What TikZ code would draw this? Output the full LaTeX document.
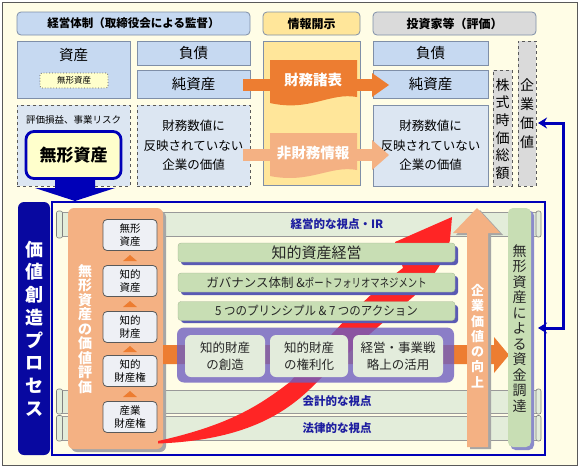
\documentclass[tikz,border=0pt]{standalone}
\usepackage{fontspec}
\setmainfont{Noto Sans CJK JP}
\usetikzlibrary{arrows.meta}
\definecolor{cream}{HTML}{FFFDE6}
\definecolor{frameg}{HTML}{595959}
\definecolor{lblue}{HTML}{C6D9F1}
\definecolor{lblue2}{HTML}{DCE6F2}
\definecolor{bordb}{HTML}{7F8FA8}
\definecolor{lyel}{HTML}{FFE69A}
\definecolor{lgray}{HTML}{DADADA}
\definecolor{dorange}{HTML}{ED7D31}
\definecolor{lorange}{HTML}{F4B183}
\definecolor{dblue}{HTML}{0000B8}
\definecolor{navy}{HTML}{0808A0}
\definecolor{bandg}{HTML}{E3EDDA}
\definecolor{barg}{HTML}{C8DEB4}
\definecolor{purp}{HTML}{6F5FC0}
\definecolor{pinner}{HTML}{E3ECDC}
\definecolor{redc}{HTML}{FF2525}
\definecolor{txtblue}{HTML}{1E1EA0}
\definecolor{shad}{HTML}{5A5AB4}
\definecolor{pale}{HTML}{FFFFCC}
\definecolor{boxg}{HTML}{EEF0F5}
\tikzset{
  fs/.style={font=\fontsize{#1}{#1}\selectfont},
  fsb/.style={font=\fontsize{#1}{#1}\selectfont\bfseries},
  hdrbox/.style={draw=bordb, line width=0.8pt, rounded corners=4pt, inner sep=0pt},
  boxa/.style={draw=bordb, fill=lblue, line width=0.8pt, inner sep=0pt},
  dashbox/.style={draw=frameg, dashed, line width=0.7pt, fill=lblue2, inner sep=0pt},
  gbox/.style={draw=frameg, dashed, fill=lgray, line width=0.7pt, inner sep=0pt},
  band/.style={draw=black!40, fill=bandg, line width=0.6pt, inner sep=0pt},
  curl/.style={draw=black!50, fill=bandg, line width=0.6pt, rounded corners=2pt},
  sbox/.style={draw=black!65, fill=boxg, rounded corners=4pt, line width=0.8pt,
    minimum width=54pt, minimum height=31pt, inner sep=0pt, align=center,
    font=\fontsize{10.5}{13}\selectfont},
  bar/.style={fill=barg, draw=barg!80!black, line width=0.3pt, rounded corners=3pt,
    minimum width=277pt, minimum height=19pt, inner sep=0pt, text=black!85},
  pin/.style={fill=pinner, rounded corners=6pt, minimum height=42pt, inner sep=0pt,
    align=center, font=\fontsize{12.5}{17}\selectfont, text=black!85},
  vtxt/.style={align=center, inner sep=0pt},
  tri/.style={fill=dorange}
}
\begin{document}
\begin{tikzpicture}[x=1pt,y=-1pt]
\useasboundingbox (0,0) rectangle (580,469);
\fill[white] (0,0) rectangle (580,469);
\draw[fill=cream, draw=frameg, line width=1pt] (2.5,2.5) rectangle (577,465);

% ---------- headers
\node[hdrbox, fill=lblue, minimum width=233pt, minimum height=23pt, fsb=11.5] (h1) at (133.5,23.5) {経営体制（取締役会による監督）};
\node[hdrbox, fill=lyel, minimum width=97pt, minimum height=23pt, fsb=12] (h2) at (311.5,23.5) {情報開示};
\node[hdrbox, fill=lgray, minimum width=163pt, minimum height=23pt, fsb=12] (h3) at (454.5,23.5) {投資家等（評価）};

% ---------- balance sheet row
\node[boxa, minimum width=113pt, minimum height=57pt] (shisan) at (73.5,69.5) {};
\node[fs=14.5] (tshisan) at (73.5,55) {資産};
\node[draw=frameg, dotted, line width=0.8pt, fill=pale, rounded corners=2pt, minimum width=68pt, minimum height=15pt, inner sep=0pt, fs=8.5] (mk1) at (74,80.5) {無形資産};
\node[boxa, minimum width=113pt, minimum height=24pt, fs=14.5] (fusai1) at (193.5,53) {負債};
\node[boxa, minimum width=113pt, minimum height=28pt, fs=14.5] (jun1) at (193.5,84) {純資産};
\node[draw=bordb, fill=lyel, line width=0.8pt, minimum width=97pt, minimum height=144pt, inner sep=0pt] (col) at (311.5,113) {};
\node[boxa, minimum width=115pt, minimum height=24pt, fs=14.5] (fusai2) at (430.5,53) {負債};
\node[boxa, minimum width=115pt, minimum height=28pt, fs=14.5] (jun2) at (430.5,84) {純資産};
\node[gbox, minimum width=19pt, minimum height=116pt] (kabu) at (502.5,128) {};
\node[vtxt, font=\fontsize{14}{17.6}\selectfont] (tkabu) at (502.5,129) {株\\式\\時\\価\\総\\額};
\node[gbox, minimum width=18pt, minimum height=145pt] (kigyo) at (527,113.5) {};
\node[vtxt, font=\fontsize{14}{19}\selectfont] (tkigyo) at (527,114) {企\\業\\価\\値};

% ---------- second row
\node[dashbox, minimum width=113pt, minimum height=81pt] (lb) at (73.5,145.5) {};
\node[fs=9.5] (tlb) at (73.5,120) {評価損益、事業リスク};
\node[draw=dblue, line width=2.8pt, rounded corners=8pt, fill=pale, minimum width=95pt, minimum height=47pt, inner sep=0pt, fsb=17] (mk2) at (73.5,155) {無形資産};
\node[dashbox, minimum width=113pt, minimum height=81pt, align=center, font=\fontsize{12.5}{19.5}\selectfont] (mb) at (193.5,145.5) {財務数値に\\反映されていない\\企業の価値};
\node[boxa, fill=lblue2, minimum width=115pt, minimum height=81pt, align=center, font=\fontsize{12.5}{19.5}\selectfont] (rb) at (430.5,145.5) {財務数値に\\反映されていない\\企業の価値};

% ---------- disclosure arrows
\fill[dorange] (243,79) rectangle (373,91);
\fill[dorange] (372,73) -- (389,85) -- (372,97) -- cycle;
\fill[dorange] (270,60) -- (357,60) -- (357,97) .. controls (330,92) and (310,112) .. (270,103) -- cycle;
\node[fsb=14.5, text=white] (tfs) at (313,80) {財務諸表};
\fill[lorange] (243,149) rectangle (373,161);
\fill[lorange] (372,140) -- (389,155) -- (372,170) -- cycle;
\fill[lorange] (270,133) -- (357,133) -- (357,170) .. controls (330,165) and (310,184) .. (270,176) -- cycle;
\node[fsb=14.5, text=white] (tnf) at (313,153) {非財務情報};

% ---------- bottom bands
\node[band, minimum width=482pt, minimum height=24pt] (bir) at (299,224) {};
\node[band, minimum width=482pt, minimum height=23pt] (bkk) at (299,401.5) {};
\node[band, minimum width=482pt, minimum height=24pt] (bhr) at (299,428.5) {};
\draw[curl] (56.5,211) rectangle (62.5,238);
\draw[curl] (56.5,389) rectangle (62.5,414);
\draw[curl] (56.5,415.5) rectangle (62.5,441);
\draw[curl] (536,211) rectangle (541,237);
\draw[curl] (536,389) rectangle (541,414);
\draw[curl] (536,415.5) rectangle (541,441);
\node[fsb=11.5, text=txtblue] (tir) at (337,224) {経営的な視点・IR};
\node[fsb=11.5, text=txtblue] (tkk) at (337,401.5) {会計的な視点};
\node[fsb=11.5, text=txtblue] (thr) at (337,428.5) {法律的な視点};

% ---------- left orange panel
\fill[black!35, rounded corners=6pt] (71,211) rectangle (166,452);
\node[fill=lorange, rounded corners=6pt, minimum width=95pt, minimum height=241pt, inner sep=0pt] (panel) at (115.5,328.5) {};
\node[vtxt, text=white, font=\fontsize{14}{14.5}\selectfont\bfseries] (tpanel) at (85,329) {無\\形\\資\\産\\の\\価\\値\\評\\価};
\node[sbox] (s1) at (130,235) {無形\\資産};
\node[sbox] (s2) at (130,281) {知的\\資産};
\node[sbox] (s3) at (130,327) {知的\\財産};
\node[sbox] (s4) at (130,371) {知的\\財産権};
\node[sbox] (s5) at (130,417) {産業\\財産権};
\fill[tri] (123,261) -- (137,261) -- (130,255) -- cycle;
\fill[tri] (123,307) -- (137,307) -- (130,301) -- cycle;
\fill[tri] (123,352) -- (137,352) -- (130,346) -- cycle;
\fill[tri] (123,397) -- (137,397) -- (130,391) -- cycle;

% ---------- horizontal orange arrow
\fill[dorange] (163,345) -- (494,345) -- (494,337) -- (509,355) -- (494,373) -- (494,364) -- (163,364) -- cycle;

% ---------- red curved arrow
\fill[redc] (158,441) .. controls (230,425) and (260,405) .. (290,382)
  .. controls (315,352) and (360,300) .. (403,268)
  -- (395,242) -- (452,217)
  -- (450,240) .. controls (445,262) and (430,282) .. (413,297)
  .. controls (382,323) and (342,358) .. (317,382)
  .. controls (290,410) and (250,440) .. (158,443.5) -- cycle;

% ---------- green bars
\fill[shad, rounded corners=3pt] (181,246) rectangle (458,265);
\node[bar, fs=15] (g1) at (316.5,252.5) {知的資産経営};
\fill[shad, rounded corners=3pt] (181,276) rectangle (458,295);
\node[bar] (g2) at (316.5,282.5) {{\fontsize{12.5}{12}\selectfont ガバナンス体制 \&}\scalebox{0.78}[1]{\fontsize{12}{12}\selectfont ポートフォリオマネジメント}};
\fill[shad, rounded corners=3pt] (181,305) rectangle (458,323);
\node[bar, fs=12.5] (g3) at (316.5,311) {\scalebox{0.92}[1]{5 つのプリンシプル \& 7 つのアクション}};

% ---------- purple box
\node[fill=purp, fill opacity=0.8, rounded corners=7pt, minimum width=277pt, minimum height=55pt, inner sep=0pt] (pbox) at (315.5,355) {};
\node[pin, minimum width=80pt] (p1) at (225,356) {知的財産\\の創造};
\node[pin, minimum width=78pt] (p2) at (309,356) {知的財産\\の権利化};
\node[pin, minimum width=90pt] (p3) at (398,356) {経営・事業戦\\略上の活用};

% ---------- vertical orange arrow
\fill[black!35] (470,449) -- (470,235) -- (456,235) -- (480,210) -- (503,235) -- (491,235) -- (491,449) -- cycle;
\fill[lorange] (467,447) -- (467,233) -- (453,233) -- (477,208) -- (500,233) -- (488,233) -- (488,447) -- cycle;
\node[vtxt, text=white, font=\fontsize{13}{15.3}\selectfont\bfseries] (tup) at (477.5,336) {企\\業\\価\\値\\の\\向\\上};

% ---------- green column
\fill[shad!70, rounded corners=5pt] (510.5,210.5) rectangle (534,450);
\node[fill=barg, rounded corners=5pt, minimum width=23pt, minimum height=239pt, inner sep=0pt] (gcol) at (519.5,327.5) {};
\node[vtxt, font=\fontsize{14}{15.5}\selectfont, text=black!85] (tgcol) at (519.5,328.5) {無\\形\\資\\産\\に\\よ\\る\\資\\金\\調\\達};

% ---------- frame and process label
\draw[dblue, line width=2.5pt] (52,202) rectangle (545,455);
\node[fill=navy, rounded corners=6pt, minimum width=32pt, minimum height=253pt, inner sep=0pt] (vcp) at (34,328.5) {};
\node[vtxt, text=white, font=\fontsize{18}{22.7}\selectfont\bfseries] (tvcp) at (34,328.5) {価\\値\\創\\造\\プ\\ロ\\セ\\ス};

% ---------- blue down arrow
\fill[dblue] (55,180) -- (95,180) -- (95,188) -- (115,188) -- (75,201) -- (35,188) -- (55,188) -- cycle;

% ---------- blue connector
\coordinate (ca) at (538,123);
\coordinate (cb) at (538,328);
\draw[dblue, line width=3pt, {Stealth[length=9pt,width=11pt]}-{Stealth[length=9pt,width=11pt]}] (ca) -- (563,123) |- (cb);
\end{tikzpicture}
\end{document}
